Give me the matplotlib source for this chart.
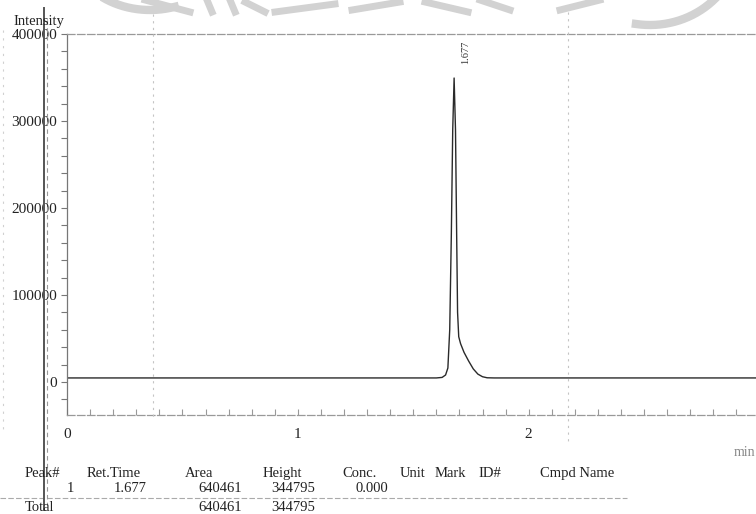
import numpy as np
import matplotlib
matplotlib.use("Agg")
import matplotlib.pyplot as plt
from matplotlib.lines import Line2D
from matplotlib.ticker import MultipleLocator

plt.rcParams['font.family'] = ['Liberation Serif', 'DejaVu Serif']

# Chromatogram trace: retention time (min) and detector intensity
baseline = 4600
peak_time = 1.677
peak_height = 344795
trace_time = [0.0, 0.50, 1.00, 1.50, 1.60, 1.625, 1.640, 1.650, 1.658, 1.665,
              1.671, peak_time, 1.683, 1.688, 1.692, 1.697, 1.705, 1.72, 1.74,
              1.76, 1.78, 1.80, 1.82, 1.85, 2.20, 2.60, 3.00]
trace_intensity = [baseline, baseline, baseline, baseline, baseline, 5200, 8000,
                   16000, 60000, 170000, 290000, baseline + peak_height,
                   290000, 170000, 80000, 52000, 44000, 34000, 24000, 15000,
                   9000, 6000, 4800, baseline, baseline, baseline, baseline]

# Peak table
table_headers = ["Peak#", "Ret.Time", "Area", "Height", "Conc.", "Unit", "Mark", "ID#", "Cmpd Name"]
peak_ids = ["1"]
ret_times = ["1.677"]
areas = [640461]
heights = [344795]
concs = ["0.000"]
total_area = 640461
total_height = 344795

y_ticks = [0, 100000, 200000, 300000, 400000]
x_ticks = [0, 1, 2]

W, H = 756, 514
fig = plt.figure(figsize=(W / 100, H / 100), dpi=100)


def fx(x):
    return x / W


def fy(y):
    return 1 - y / H


ax_left, ax_top, ax_bottom = 67, 34, 415
ax = fig.add_axes([fx(ax_left), fy(ax_bottom), 1 - fx(ax_left), (ax_bottom - ax_top) / H])
ax.plot(trace_time, trace_intensity, color='#2a2a2a', lw=1.0)

ax.set_xlim(0, (W - 68) / 230.5)
ax.set_ylim(-38000, 400000)

ax.set_yticks(y_ticks)
ax.set_yticklabels([str(v) for v in y_ticks], fontsize=11, color='#222')
ax.yaxis.set_minor_locator(MultipleLocator(20000))
ax.tick_params(axis='y', which='both', direction='out', length=4, width=0.8,
               color='#777', pad=3)

ax.set_xticks(x_ticks)
ax.set_xticklabels([str(v) for v in x_ticks], fontsize=11, color='#222')
ax.xaxis.set_minor_locator(MultipleLocator(0.1))
ax.tick_params(axis='x', which='both', direction='in', length=4, width=0.8,
               color='#999', pad=9)

ax.spines['right'].set_visible(False)
ax.spines['left'].set_color('#777')
ax.spines['left'].set_linewidth(0.9)
for side in ('top', 'bottom'):
    ax.spines[side].set_color('#999')
    ax.spines[side].set_linewidth(0.9)
    ax.spines[side].set_linestyle((0, (6, 2)))

ax.annotate(ret_times[0], xy=(peak_time, baseline + peak_height), xytext=(5, 10),
            textcoords='offset points', rotation=90, fontsize=7.5,
            ha='left', va='bottom', color='#333')

fig.text(fx(13), fy(22), "Intensity", fontsize=10.5, ha='left', va='center', color='#222')
fig.text(fx(755), fy(452), "min", fontsize=10, ha='right', va='center', color='#888')

# Peak table below the plot
font_kw = dict(fontsize=10.5, va='baseline', color='#222')
header_x = [25, 87, 185, 263, 342, 400, 435, 478, 540]
for label, x in zip(table_headers, header_x):
    fig.text(fx(x), fy(477), label, ha='left', **font_kw)

row_y = 492
fig.text(fx(74), fy(row_y), peak_ids[0], ha='right', **font_kw)
fig.text(fx(147), fy(row_y), ret_times[0], ha='right', **font_kw)
fig.text(fx(242), fy(row_y), str(areas[0]), ha='right', **font_kw)
fig.text(fx(315), fy(row_y), str(heights[0]), ha='right', **font_kw)
fig.text(fx(388), fy(row_y), concs[0], ha='right', **font_kw)

fig.add_artist(Line2D([fx(0), fx(627)], [fy(498), fy(498)], color='#aaa', lw=0.8,
                      linestyle=(0, (5, 2))))

total_y = 511
fig.text(fx(25), fy(total_y), "Total", ha='left', **font_kw)
fig.text(fx(242), fy(total_y), str(total_area), ha='right', **font_kw)
fig.text(fx(315), fy(total_y), str(total_height), ha='right', **font_kw)

# Page fold and punch-margin marks
fig.add_artist(Line2D([fx(44), fx(44)], [fy(8), fy(510)], color='#555', lw=1.4))
fig.add_artist(Line2D([fx(47), fx(47)], [fy(20), fy(505)], color='#999', lw=0.8,
                      linestyle=(0, (4, 3))))
for xm, y0, y1 in [(153, 14, 420), (568, 12, 445)]:
    fig.add_artist(Line2D([fx(xm), fx(xm)], [fy(y0), fy(y1)], color='#c4c4c4', lw=0.8,
                          linestyle=(0, (2, 4))))
fig.add_artist(Line2D([fx(3), fx(3)], [fy(30), fy(430)], color='#d0d0d0', lw=0.8,
                      linestyle=(0, (2, 5))))

# Faint stamp strokes along the top edge
stamp = '#d2d2d2'
t = np.linspace(np.pi * 1.05, np.pi * 1.6, 30)
fig.add_artist(Line2D(fx(150 + 80 * np.cos(t)), fy(-55 - 65 * np.sin(t)), color=stamp, lw=6))
t = np.linspace(np.pi * 1.45, np.pi * 1.95, 30)
fig.add_artist(Line2D(fx(650 + 90 * np.cos(t)), fy(-60 - 85 * np.sin(t)), color=stamp, lw=6))
for xa, xb, ya, yb in [(145, 190, 0, 12), (207, 212, 0, 12), (230, 235, 0, 12),
                       (245, 265, 2, 12), (275, 335, 12, 4), (352, 400, 10, 2),
                       (425, 468, 2, 12), (480, 510, 0, 10), (560, 600, 10, 0)]:
    fig.add_artist(Line2D([fx(xa), fx(xb)], [fy(ya), fy(yb)], color=stamp, lw=5))

fig.savefig("out.png", dpi=100)
